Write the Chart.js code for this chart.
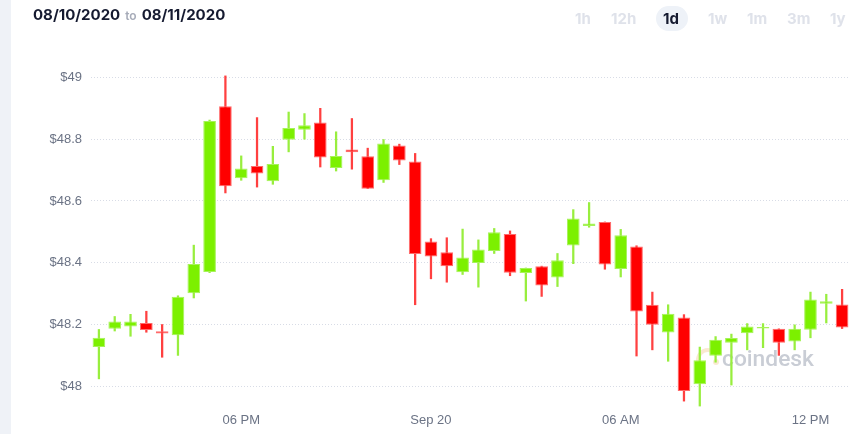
<!DOCTYPE html>
<html>
<head>
<meta charset="utf-8">
<script src="https://cdn.jsdelivr.net/npm/chart.js@4/dist/chart.umd.min.js"></script>
<style>
  body { margin: 0; width: 862px; height: 434px; background: #fff; overflow: hidden; position: relative; font-family: Inter, sans-serif; }
  .side { position: absolute; left: 0; top: 0; width: 11px; height: 434px; background: #eff2f7; }
  #wrap { position: absolute; left: 0; top: 0; width: 862px; height: 434px; }
  .range { position: absolute; left: 33px; top: 5px; font-weight: 700; font-size: 15px; color: #151a30; }
  .range span { color: #a6abb8; font-size: 12px; font-weight: 600; margin: 0 5px; }
  .btn { position: absolute; top: 9px; font-weight: 700; font-size: 15px; color: #dfe2ea; }
  .btn.on { color: #151a30; }
  .pill { position: absolute; left: 656px; top: 6px; width: 32px; height: 25px; border-radius: 13px; background: #eef2f8; }
</style>
</head>
<body>
<div class="side"></div>
<div id="wrap"><canvas id="candles"></canvas></div>
<div class="range">08/10/2020<span>to</span>08/11/2020</div>
<div class="pill"></div>
<div class="btn" style="left:575px">1h</div>
<div class="btn" style="left:611px">12h</div>
<div class="btn on" style="left:663px">1d</div>
<div class="btn" style="left:708px">1w</div>
<div class="btn" style="left:747px">1m</div>
<div class="btn" style="left:787px">3m</div>
<div class="btn" style="left:830px">1y</div>
<script>
// half-hour candles, 08/10 1:30 PM -> 08/11 1:00 PM
const times = ['1:30 PM','2:00 PM','2:30 PM','3:00 PM','3:30 PM','4:00 PM','4:30 PM','5:00 PM','5:30 PM','6:00 PM',
  '6:30 PM','7:00 PM','7:30 PM','8:00 PM','8:30 PM','9:00 PM','9:30 PM','10:00 PM','10:30 PM','11:00 PM','11:30 PM',
  '12:00 AM','12:30 AM','1:00 AM','1:30 AM','2:00 AM','2:30 AM','3:00 AM','3:30 AM','4:00 AM','4:30 AM','5:00 AM','5:30 AM',
  '6:00 AM','6:30 AM','7:00 AM','7:30 AM','8:00 AM','8:30 AM','9:00 AM','9:30 AM','10:00 AM','10:30 AM','11:00 AM','11:30 AM',
  '12:00 PM','12:30 PM','1:00 PM']

const open  = [48.127,48.186,48.194,48.205,48.178,48.165,48.301,48.370,48.907,48.674,48.713,48.664,48.798,48.831,48.854,48.707,
  48.767,48.745,48.667,48.780,48.728,48.469,48.434,48.369,48.399,48.438,48.493,48.367,48.389,48.352,48.456,48.519,
  48.532,48.380,48.453,48.264,48.174,48.223,48.007,48.099,48.141,48.172,48.187,48.186,48.145,48.183,48.267,48.265]
const high  = [48.184,48.226,48.233,48.243,48.200,48.293,48.457,48.862,49.005,48.746,48.870,48.777,48.888,48.883,48.900,48.824,
  48.867,48.771,48.799,48.784,48.754,48.478,48.481,48.509,48.474,48.511,48.503,48.383,48.389,48.430,48.572,48.595,
  48.532,48.508,48.455,48.305,48.264,48.232,48.127,48.161,48.169,48.203,48.203,48.186,48.199,48.305,48.298,48.314]
const low   = [48.024,48.179,48.162,48.175,48.094,48.100,48.286,48.368,48.626,48.667,48.645,48.654,48.759,48.800,48.710,48.697,
  48.703,48.640,48.660,48.718,48.264,48.348,48.337,48.362,48.321,48.430,48.358,48.276,48.291,48.323,48.397,48.515,
  48.379,48.354,48.098,48.118,48.081,47.952,47.936,48.078,48.004,48.118,48.125,48.100,48.118,48.157,48.205,48.187]
const close = [48.157,48.210,48.210,48.182,48.171,48.290,48.396,48.859,48.648,48.705,48.689,48.720,48.836,48.845,48.741,48.746,
  48.758,48.640,48.786,48.731,48.428,48.420,48.389,48.417,48.443,48.499,48.368,48.383,48.326,48.408,48.543,48.527,
  48.394,48.489,48.242,48.199,48.235,47.985,48.084,48.151,48.156,48.194,48.192,48.141,48.186,48.281,48.275,48.190]

const yTicks = [48, 48.2, 48.4, 48.6, 48.8, 49]
const xTickText = { '6:00 PM': '06 PM', '12:00 AM': 'Sep 20', '6:00 AM': '06 AM', '12:00 PM': '12 PM' }

const up = close.map((c, i) => c >= open[i])

const watermark = {
  id: 'watermark',
  beforeDatasetsDraw(chart) {
    const ctx = chart.ctx
    ctx.save()
    // faint logo mark
    ctx.strokeStyle = 'rgba(240, 200, 140, 0.4)'
    ctx.lineWidth = 4
    ctx.beginPath()
    ctx.arc(708, 360, 10, Math.PI * 0.6, Math.PI * 1.6)
    ctx.stroke()
    ctx.fillStyle = 'rgba(240, 200, 140, 0.4)'
    ctx.beginPath()
    ctx.arc(716, 362, 3, 0, Math.PI * 2)
    ctx.fill()
    // wordmark
    ctx.fillStyle = '#c9cdd5'
    let size = 26
    ctx.font = `500 ${size}px Roboto, sans-serif`
    size = size * 92 / ctx.measureText('coindesk').width
    ctx.font = `500 ${size}px Roboto, sans-serif`
    ctx.textBaseline = 'alphabetic'
    ctx.fillText('coindesk', 722, 366)
    ctx.restore()
  }
}

new Chart(document.getElementById('candles'), {
  type: 'bar',
  data: {
    labels: times,
    datasets: [
      {
        label: 'wick',
        data: low.map((l, i) => [l, high[i]]),
        backgroundColor: up.map(u => u ? '#98ee3e' : '#ff4040'),
        barThickness: 1.6,
        grouped: false,
        order: 2
      },
      {
        label: 'body',
        data: open.map((o, i) => [o, close[i]]),
        backgroundColor: up.map(u => u ? '#7cf000' : '#ff0000'),
        borderColor: up.map(u => u ? '#a6f25a' : '#ff6a6a'),
        borderWidth: 1,
        borderSkipped: false,
        categoryPercentage: 0.8,
        barPercentage: 1,
        grouped: false,
        order: 1
      }
    ]
  },
  options: {
    responsive: true,
    maintainAspectRatio: false,
    animation: false,
    layout: { padding: { top: 62, right: 12, left: 0, bottom: 0 } },
    plugins: { legend: { display: false }, tooltip: { enabled: false } },
    scales: {
      x: {
        offset: true,
        grid: { display: false, drawTicks: false },
        border: { display: false },
        ticks: {
          autoSkip: false,
          maxRotation: 0,
          padding: 2,
          color: '#6b7385',
          font: { family: 'Liberation Sans', size: 13 },
          callback: function (v) { return xTickText[this.getLabelForValue(v)] || '' }
        },
        afterFit(scale) { scale.height = 23 }
      },
      y: {
        min: 47.92,
        max: 49.05,
        afterBuildTicks(scale) { scale.ticks = yTicks.map(v => ({ value: v })) },
        grid: { color: '#d8dce6', drawTicks: false },
        border: { display: false, dash: [1, 2] },
        ticks: {
          padding: 9,
          color: '#6b7385',
          font: { family: 'Liberation Sans', size: 13 },
          callback: v => '$' + Number(v.toFixed(1))
        },
        afterFit(scale) { scale.width = 91 }
      }
    }
  },
  plugins: [watermark]
})
</script>
</body>
</html>
